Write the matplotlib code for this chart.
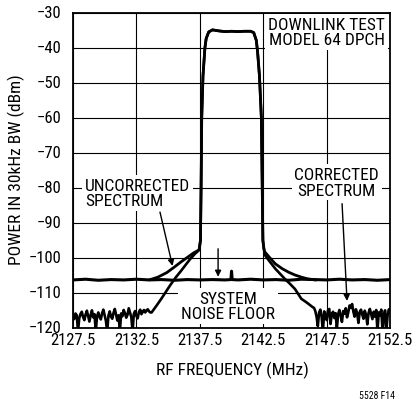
import numpy as np
import matplotlib.pyplot as plt
import matplotlib.transforms as mtransforms

plt.rcParams['font.family'] = ['Liberation Sans Narrow', 'DejaVu Sans Condensed',
                               'Roboto Condensed', 'DejaVu Sans']

# channel (shared by both traces)
chan_freq = [2137.45, 2137.55, 2137.6, 2137.65, 2137.75, 2137.9, 2138.0, 2138.2, 2138.5,
             2139.0, 2139.5, 2140.0, 2140.5, 2141.0, 2141.5, 2141.75, 2141.95, 2142.05,
             2142.2, 2142.35, 2142.42, 2142.47, 2142.55]
chan_db = [-97.6, -95.0, -80.0, -60.0, -48.0, -40.0, -37.3, -35.4, -34.8,
           -35.1, -35.3, -35.2, -35.3, -35.2, -35.2, -35.6, -37.8, -41.0,
           -48.0, -60.0, -80.0, -95.0, -97.4]

# uncorrected skirts
unc_left_freq = [2133.6, 2134.2, 2134.9, 2135.5, 2136.0, 2136.5, 2137.0, 2137.4]
unc_left_db = [-106.2, -105.5, -104.2, -102.6, -101.2, -99.9, -98.6, -97.8]
unc_right_freq = [2142.6, 2143.0, 2143.45, 2144.0, 2144.5, 2145.0, 2145.5, 2146.0, 2146.6]
unc_right_db = [-98.2, -99.9, -101.7, -103.1, -104.1, -104.9, -105.5, -106.0, -106.3]

# corrected skirts
cor_left_freq = [2133.7, 2134.1, 2134.5, 2135.15, 2135.6, 2136.0, 2136.7, 2137.1, 2137.4]
cor_left_db = [-115.6, -113.6, -111.5, -107.9, -105.6, -103.8, -100.5, -98.9, -97.9]
cor_right_freq = [2142.65, 2143.0, 2143.45, 2144.2, 2144.6, 2145.0, 2145.5, 2145.9, 2146.4]
cor_right_db = [-99.3, -101.0, -103.1, -106.0, -107.4, -108.9, -111.7, -112.7, -114.1]

# corrected noise
noise_left_db = [-116.8, -117.5, -115.9, -116.4, -121, -117.2, -116.0, -115.4, -116.9, -117.8,
                 -116.2, -115.1, -116.6, -118.2, -116.3, -115.0, -117.0, -116.1, -121, -116.7,
                 -115.6, -116.9, -117.6, -115.8, -114.8, -116.4, -118.0, -121, -116.5, -115.3,
                 -116.8, -117.4, -115.7, -114.6, -116.2, -117.9, -116.4, -121, -115.9, -116.7,
                 -114.9, -115.8, -117.1, -116.3, -114.4, -115.7, -116.9, -121, -116.0, -115.2,
                 -116.6, -117.3, -115.5, -114.8, -116.1, -115.4, -114.9, -115.6, -115.0, -114.7,
                 -115.3, -115.6]
noise_right_db = [-114.3, -115.2, -116.8, -119.5, -115.6, -114.8, -116.9, -121, -115.3, -116.2,
                  -117.8, -115.0, -114.6, -118.9, -116.0, -115.4, -117.2, -115.8, -120.2, -116.1,
                  -114.9, -116.5, -118.3, -115.2, -116.0, -114.4, -117.0, -115.6, -113.6, -114.3,
                  -113.2, -115.4, -116.8, -114.7, -115.9, -118.6, -115.5, -114.8, -116.2, -117.4,
                  -115.1, -116.3, -119.0, -115.7, -114.6, -116.0, -117.5, -115.4, -116.8, -114.9,
                  -121, -115.6, -116.5, -114.8, -121, -116.2, -115.0, -121, -116.4, -114.7,
                  -115.5]

# system noise floor
floor_freq = [2127.5, 2128.5, 2129.5, 2130.5, 2131.5, 2132.5, 2133.5, 2134.5, 2135.5, 2136.5,
              2137.5, 2138.5, 2139.5, 2139.95, 2140.0, 2140.05, 2140.5, 2141.5, 2142.5, 2143.5,
              2144.5, 2145.5, 2146.5, 2147.5, 2148.5, 2149.5, 2150.5, 2151.5, 2152.5]
floor_db = [-106.3, -106.1, -106.4, -106.2, -106.3, -106.1, -106.3, -106.2, -106.4, -106.2,
            -106.3, -106.2, -106.3, -106.2, -103.8, -106.2, -106.3, -106.1, -106.3, -106.2,
            -106.4, -106.1, -106.2, -106.3, -106.1, -106.3, -106.2, -106.4, -106.2]

xticks = [2127.5, 2132.5, 2137.5, 2142.5, 2147.5, 2152.5]
yticks = [-30, -40, -50, -60, -70, -80, -90, -100, -110, -120]

noise_left_freq = np.linspace(2127.5, 2133.6, len(noise_left_db))
noise_right_freq = np.linspace(2146.5, 2152.5, len(noise_right_db))

unc_f = unc_left_freq + chan_freq + unc_right_freq
unc_d = unc_left_db + chan_db + unc_right_db
cor_f = list(noise_left_freq) + cor_left_freq + chan_freq + cor_right_freq + list(noise_right_freq)
cor_d = noise_left_db + cor_left_db + chan_db + cor_right_db + noise_right_db

fig = plt.figure(figsize=(4.12, 4.02), dpi=100)
ax = fig.add_axes([0.177, 0.182, 0.770, 0.783])

ax.plot(floor_freq, floor_db, color='k', lw=2.2)
ax.plot(unc_f, unc_d, color='k', lw=2.0)
ax.plot(cor_f, cor_d, color='k', lw=1.9)

ax.set_xlim(2127.5, 2152.5)
ax.set_ylim(-120, -30)
ax.set_xticks(xticks)
ax.set_yticks(yticks)
ax.set_xticklabels(['%.1f' % x for x in xticks])
ax.tick_params(length=0, labelsize=12, colors='k')
ax.tick_params(axis='x', pad=3)
ax.tick_params(axis='y', pad=8)
ax.grid(True, color='k', lw=0.8)
ax.set_axisbelow(True)
for s in ax.spines.values():
    s.set_linewidth(1.3)

# lift the y tick labels a touch so -120 clears 2127.5
lift = mtransforms.ScaledTranslation(0, 2 / 100, fig.dpi_scale_trans)
for lab in ax.get_yticklabels():
    lab.set_transform(lab.get_transform() + lift)

box = dict(facecolor='white', edgecolor='none', pad=2)
ax.text(2152.1, -31.0, 'DOWNLINK TEST\nMODEL 64 DPCH', ha='right', va='top', fontsize=12.5,
        linespacing=1.05, bbox=box, zorder=5)
ax.text(2128.45, -81.4, 'UNCORRECTED\nSPECTRUM', ha='left', va='center', fontsize=12.5,
        linespacing=1.05, bbox=box, zorder=5)
ax.text(2148.3, -78.4, 'CORRECTED\nSPECTRUM', ha='center', va='center', fontsize=12.5,
        linespacing=1.05, bbox=box, zorder=5)
ax.text(2139.7, -113.8, 'SYSTEM\nNOISE FLOOR', ha='center', va='center', fontsize=12.5,
        linespacing=1.05, bbox=box, zorder=5)

arrow = dict(arrowstyle='-|>', color='k', lw=1.0, mutation_scale=9, shrinkA=0, shrinkB=0)
ax.annotate('', xy=(2135.35, -102.3), xytext=(2134.36, -86.9), arrowprops=arrow)
ax.annotate('', xy=(2149.1, -112.3), xytext=(2148.71, -84.5), arrowprops=arrow)
ax.annotate('', xy=(2138.94, -105.4), xytext=(2138.94, -97.4), arrowprops=arrow)

fig.text(232 / 412, 1 - 370 / 402, 'RF FREQUENCY (MHz)', ha='center', va='center', fontsize=12.5)
fig.text(16 / 412, 1 - 170 / 402, 'POWER IN 30kHz BW (dBm)', ha='center', va='center',
         rotation=90, fontsize=12.5)
fig.text(395 / 412, 1 - 396 / 402, '5528 F14', ha='right', va='center', fontsize=7)

fig.savefig('out.png', dpi=100)
